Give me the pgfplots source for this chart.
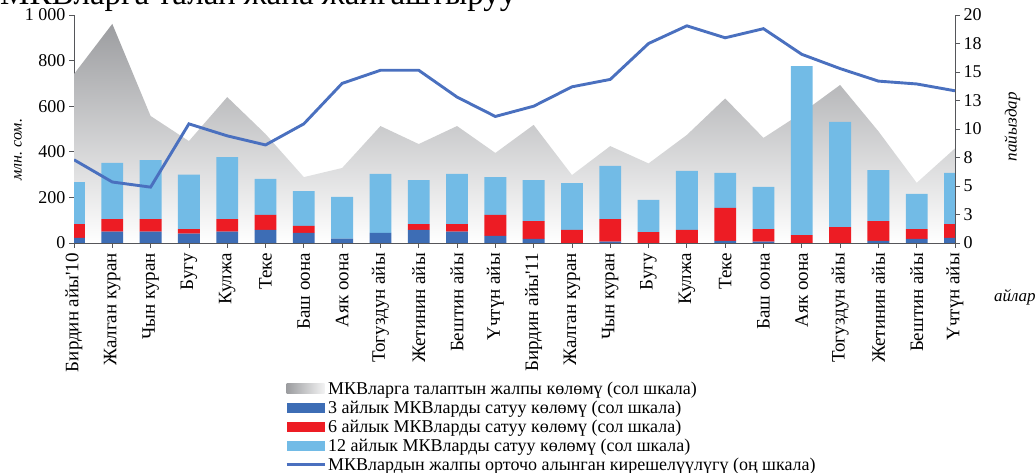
\documentclass[border=0pt]{standalone}
\usepackage{fontspec}
\setmainfont{Liberation Serif}
\usepackage{pgfplots}
\usepackage{pgfplotstable}
\pgfplotsset{compat=1.18}

\definecolor{m3}{HTML}{3D6DB5}
\definecolor{m6}{HTML}{ED1C24}
\definecolor{m12}{HTML}{72BBE6}
\definecolor{yld}{HTML}{4A70BF}
\definecolor{dem}{HTML}{9C9DA0}
\definecolor{axgray}{HTML}{55565A}

% demand (left), sales by term (left, stacked), average yield (right, %)
\pgfplotstableread{
x  dem  m3  m6  m12  yld
0  741  23  60  184  7.3
1  961  50  55  246  5.35
2  557  50  55  259  4.9
3  447  41  20  239  10.45
4  640  50  55  272  9.4
5  478  58  65  158  8.6
6  289  44  31  153  10.45
7  329  19  0   183  14.0
8  513  44  0   259  15.15
9  434  58  25  193  15.15
10 513  50  33  220  12.8
11 395  31  92  166  11.1
12 518  18  78  180  12.0
13 298  0   57  206  13.7
14 425  6   99  233  14.35
15 349  0   48  141  17.5
16 474  0   57  259  19.05
17 634  9   145 153  18.0
18 461  6   55  185  18.8
19 570  0   35  741  16.55
20 693  0   70  461  15.3
21 490  9   87  224  14.2
22 264  18  43  154  13.95
23 415  23  60  224  13.35
}\data

\pgfplotsset{
  base/.style={
    width=881pt, height=228pt, scale only axis,
    at={(74pt,230pt)}, anchor=south west,
    xmin=0, xmax=23, enlargelimits=false,
    /pgf/number format/assume math mode=true,
    tick label style={font=\fontsize{18}{20}\selectfont},
    axis line style={axgray, line width=0.8pt, -},
    tick style={axgray, line width=0.8pt},
    tick align=outside, major tick length=5pt,
  },
}

\begin{document}
\begin{tikzpicture}

% area + left axis + categories
\begin{axis}[base,
  ymin=0, ymax=1000,
  axis x line*=bottom, axis y line*=left,
  ytick={0,200,400,600,800,1000},
  yticklabels={0,200,400,600,800,1 000},
  xtick={0,...,23},
  xticklabels={Бирдин айы\textquotesingle10, Жалган куран, Чын куран, Бугу, Кулжа, Теке,
    Баш оона, Аяк оона, Тогуздун айы, Жетинин айы, Бештин айы, Үчтүн айы,
    Бирдин айы\textquotesingle11, Жалган куран, Чын куран, Бугу, Кулжа, Теке,
    Баш оона, Аяк оона, Тогуздун айы, Жетинин айы, Бештин айы, Үчтүн айы},
  x tick label style={rotate=90, anchor=east, inner xsep=5pt,
    font=\fontsize{19}{21}\selectfont},
  ylabel={млн.\ сом.},
  ylabel style={at={(rel axis cs:-0.0636,0.41)}, anchor=center,
    font=\itshape\fontsize{16}{18}\selectfont},
  xlabel={айлар},
  xlabel style={at={(rel axis cs:1.068,-0.237)}, anchor=center,
    font=\itshape\fontsize{17}{20}\selectfont},
]
\addplot[draw=none, top color=dem, bottom color=white] table[x=x, y=dem]{\data} \closedcycle;
\end{axis}

% stacked sales bars
\begin{axis}[base, ymin=0, ymax=1000, hide axis, ybar stacked, bar width=0.57]
\addplot[fill=m3, draw=none] table[x=x, y=m3]{\data};
\addplot[fill=m6, draw=none] table[x=x, y=m6]{\data};
\addplot[fill=m12, draw=none] table[x=x, y=m12]{\data};
\end{axis}

% yield line, right axis, legend
\begin{axis}[base,
  ymin=0, ymax=20,
  axis y line*=right, axis x line=none,
  ytick={0,2.5,5,7.5,10,12.5,15,17.5,20},
  yticklabels={0,3,5,8,10,13,15,18,20},
  ylabel={пайыздар},
  ylabel style={at={(rel axis cs:1.065,0.51)}, anchor=center,
    font=\itshape\fontsize{17}{20}\selectfont},
  legend style={at={(rel axis cs:0.2395,-0.6)}, anchor=north west,
    draw=none, fill=none, inner sep=0pt, row sep=1pt,
    font=\fontsize{18}{19}\selectfont},
  legend cell align=left,
]
\addlegendimage{legend image code/.code={\path[draw=none, left color=dem, right color=dem!12] (0pt,-5pt) rectangle (38pt,5pt);}}
\addlegendentry{МКВларга талаптын жалпы көлөмү (сол шкала)}
\addlegendimage{legend image code/.code={\path[draw=none, fill=m3] (0pt,-5pt) rectangle (38pt,5pt);}}
\addlegendentry{3 айлык МКВларды сатуу көлөмү (сол шкала)}
\addlegendimage{legend image code/.code={\path[draw=none, fill=m6] (0pt,-5pt) rectangle (38pt,5pt);}}
\addlegendentry{6 айлык МКВларды сатуу көлөмү (сол шкала)}
\addlegendimage{legend image code/.code={\path[draw=none, fill=m12] (0pt,-5pt) rectangle (38pt,5pt);}}
\addlegendentry{12 айлык МКВларды сатуу көлөмү (сол шкала)}
\addplot[yld, line width=2.9pt, mark=none,
  legend image code/.code={\draw[yld, line width=3pt] (0pt,0pt) -- (38pt,0pt);}]
  table[x=x, y=yld]{\data};
\addlegendentry{МКВлардын жалпы орточо алынган кирешелүүлүгү (оң шкала)}
\end{axis}

\node[anchor=base west, inner sep=0pt, font=\fontsize{33}{36}\selectfont] at (0pt,468pt)
  {МКВларга талап жана жайгаштыруу};

\pgfresetboundingbox
\useasboundingbox (0pt,0pt) rectangle (1035pt,473pt);
\end{tikzpicture}
\end{document}
